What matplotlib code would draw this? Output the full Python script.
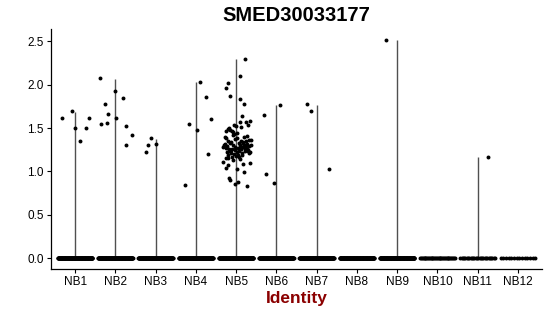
import numpy as np
import matplotlib
matplotlib.use("Agg")
import matplotlib.pyplot as plt

plt.rcParams['font.family'] = ['Liberation Sans', 'DejaVu Sans']

groups = ["NB1", "NB2", "NB3", "NB4", "NB5", "NB6", "NB7", "NB8", "NB9", "NB10", "NB11", "NB12"]
n_zero = [150, 150, 150, 150, 150, 150, 150, 150, 150, 40, 28, 14]
vmax = [1.68, 2.06, 1.37, 2.03, 2.29, 1.77, 1.77, 0.0, 2.51, 0.0, 1.17, 0.0]

# expressing cells: jitter offset and value per group
nz_off = {
    "NB1": [-0.33, -0.07, 0.0, 0.12, 0.27, 0.35],
    "NB2": [-0.37, -0.27, -0.19, -0.36, -0.2, 0.0, 0.02, 0.18, 0.26, 0.41, 0.26],
    "NB3": [-0.23, -0.18, -0.11, 0.0],
    "NB4": [-0.17, 0.02, 0.11, 0.26, 0.37, 0.29, -0.27],
    "NB5": [0.23, 0.09, -0.21, -0.24, -0.14, 0.10, 0.19, 0.15, 0.09, 0.35, 0.25, 0.30,
            -0.05, 0.0, 0.12, -0.18, -0.15, -0.20, -0.10, -0.08, -0.25,
            -0.33, -0.20, -0.26, 0.02, -0.18, -0.14, -0.04, 0.04, 0.19, 0.27, 0.35, 0.17,
            -0.32, -0.12, -0.28, -0.05, -0.26, -0.19, -0.24, -0.07, -0.22, -0.30, -0.20,
            -0.01, -0.18, -0.27, -0.16, -0.09, -0.14, -0.23, -0.12, -0.03, -0.10, -0.25,
            -0.08, -0.17, -0.06, -0.21, -0.04, -0.13, -0.02, -0.11,
            0.21, 0.02, 0.33, 0.04, 0.15, 0.06, 0.27, 0.08, 0.31, 0.10, 0.24, 0.12, 0.37,
            0.14, 0.03, 0.16, 0.29, 0.18, 0.07, 0.20, 0.01, 0.22, 0.35, 0.11, 0.25, 0.05,
            0.27, 0.19, 0.29, 0.13, 0.38, 0.32, 0.09, 0.26, 0.17, 0.23],
    "NB6": [-0.31, 0.08, -0.26, -0.07],
    "NB7": [-0.23, -0.13, 0.30],
    "NB9": [-0.27],
    "NB11": [0.25],
}
nz_val = {
    "NB1": [1.62, 1.69, 1.50, 1.35, 1.50, 1.62],
    "NB2": [2.07, 1.78, 1.66, 1.55, 1.56, 1.92, 1.61, 1.84, 1.52, 1.42, 1.30],
    "NB3": [1.22, 1.30, 1.38, 1.32],
    "NB4": [1.55, 1.48, 2.03, 1.86, 1.60, 1.20, 0.85],
    "NB5": [2.29, 2.10, 2.02, 1.96, 1.87, 1.83, 1.78, 1.64, 1.57, 1.58, 1.57, 1.53,
            1.53, 1.52, 1.51, 1.50, 1.48, 1.49, 1.47, 1.45, 1.46,
            1.11, 1.07, 1.04, 1.03, 0.93, 0.90, 0.86, 0.88, 0.99, 0.83, 1.10, 1.09,
            1.28, 1.25, 1.32, 1.20, 1.38, 1.16, 1.27, 1.42, 1.22, 1.30, 1.35,
            1.18, 1.26, 1.40, 1.24, 1.13, 1.33, 1.29, 1.21, 1.37, 1.26, 1.15,
            1.31, 1.23, 1.43, 1.19, 1.28, 1.34, 1.25, 1.17,
            1.30, 1.22, 1.36, 1.27, 1.19, 1.33, 1.41, 1.24, 1.29, 1.14, 1.35, 1.26, 1.31,
            1.21, 1.38, 1.28, 1.24, 1.33, 1.17, 1.30, 1.44, 1.26, 1.22, 1.35, 1.29, 1.19,
            1.32, 1.40, 1.25, 1.28, 1.36, 1.21, 1.31, 1.26, 1.34, 1.23],
    "NB6": [1.65, 1.77, 0.97, 0.87],
    "NB7": [1.78, 1.70, 1.03],
    "NB9": [2.51],
    "NB11": [1.17],
}

fig = plt.figure(figsize=(5.5, 3.16), dpi=100)
ax = fig.add_axes([0.0927, 0.1475, 0.8928, 0.7601])

x = np.arange(1, len(groups) + 1)
for i, g in enumerate(groups):
    if vmax[i] > 0:
        ax.vlines(x[i], 0, vmax[i], color='#505050', linewidth=1.0, zorder=1)
    zo = np.linspace(-0.43, 0.43, n_zero[i])
    ax.scatter(x[i] + zo, np.zeros(n_zero[i]), s=8, color='black', linewidths=0, zorder=2)
    if g in nz_val:
        ax.scatter(x[i] + np.array(nz_off[g]), nz_val[g], s=8, color='black',
                   linewidths=0, zorder=2)

ax.set_xlim(0.4, 12.6)
ax.set_ylim(-0.1255, 2.636)
ax.set_xticks(x)
ax.set_xticklabels(groups)
ax.set_yticks([0.0, 0.5, 1.0, 1.5, 2.0, 2.5])
ax.set_yticklabels(["0.0", "0.5", "1.0", "1.5", "2.0", "2.5"])
ax.tick_params(labelsize=8.5, length=3, width=0.8, colors='black', pad=2)
for s in ['top', 'right']:
    ax.spines[s].set_visible(False)
for s in ['left', 'bottom']:
    ax.spines[s].set_linewidth(0.9)

ax.set_title("SMED30033177", fontsize=14.5, fontweight='bold', pad=6)
ax.set_xlabel("Identity", fontsize=12.5, fontweight='bold', color='#8B0000', labelpad=2)

fig.savefig("out.png", dpi=100)
